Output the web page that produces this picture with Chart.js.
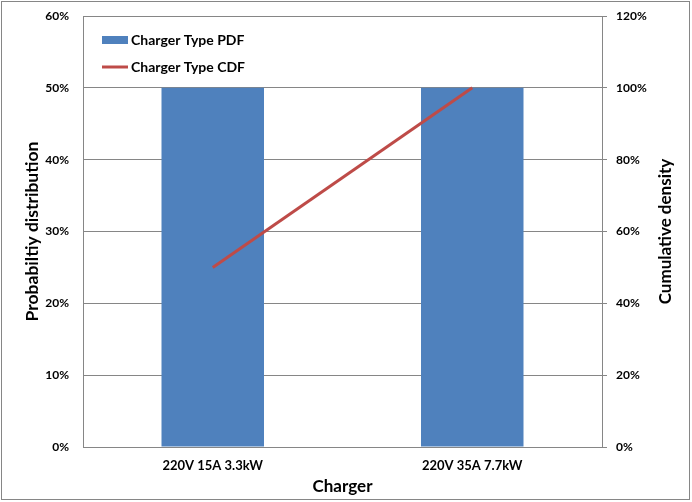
<!DOCTYPE html>
<html>
<head>
<meta charset="utf-8">
<script src="https://cdn.jsdelivr.net/npm/chart.js@4"></script>
<style>
    body { margin: 0; background: #ffffff; }
    #wrap { width: 692px; height: 502px; }
</style>
</head>
<body>
<div id="wrap"><canvas id="grafico" width="692" height="502"></canvas></div>
<script>
// Dados do gráfico
const categorias = ['220V 15A 3.3kW', '220V 35A 7.7kW'];
const valoresPdf = [0.5, 0.5];
const valoresCdf = [0.5, 1.0];
const nomesSeries = ['Charger Type PDF', 'Charger Type CDF'];
const tituloDireita = 'Cumulative density';

const corBarra = '#4F81BD';
const corLinha = '#BE4B48';
const corEixo = '#868686';
const fonte = 'Lato, "Open Sans", sans-serif';

function formatarPct(v) {
    return Math.round(v * 100) + '%';
}

// Fixa a largura do eixo vertical e evita que os rótulos empurrem a área do gráfico
function fixarEixoVertical(largura) {
    return function(scale) {
        scale.width = largura;
        scale.paddingTop = 4;
        scale.paddingBottom = 4;
    };
}

/**
 * Fundo branco e moldura externa
 */
const molduraPlugin = {
    id: 'moldura',
    beforeDraw(chart) {
        const ctx = chart.ctx;
        ctx.save();
        ctx.fillStyle = '#ffffff';
        ctx.fillRect(0, 0, chart.width, chart.height);
        ctx.strokeStyle = corEixo;
        ctx.lineWidth = 1;
        ctx.strokeRect(1.5, 1.5, chart.width - 4, chart.height - 4);
        ctx.restore();
    }
};

/**
 * Legenda dentro da área do gráfico e título do eixo direito (lido de baixo para cima)
 */
const legendaPlugin = {
    id: 'legendaInterna',
    afterDatasetsDraw(chart) {
        const ctx = chart.ctx;
        const area = chart.chartArea;
        const x0 = area.left + 19;
        const y0 = area.top + 24;
        ctx.save();
        ctx.font = 'bold 14px ' + fonte;
        ctx.textBaseline = 'middle';

        ctx.fillStyle = corBarra;
        ctx.fillRect(x0, y0 - 4, 26, 8);
        ctx.fillStyle = '#000000';
        ctx.fillText(nomesSeries[0], x0 + 29, y0);

        const y1 = y0 + 27;
        ctx.strokeStyle = corLinha;
        ctx.lineWidth = 3;
        ctx.beginPath();
        ctx.moveTo(x0, y1);
        ctx.lineTo(x0 + 26, y1);
        ctx.stroke();
        ctx.fillText(nomesSeries[1], x0 + 29, y1);

        // Título do eixo direito
        ctx.translate(666, (area.top + area.bottom) / 2);
        ctx.rotate(-Math.PI / 2);
        ctx.textAlign = 'center';
        ctx.font = 'bold 17px ' + fonte;
        ctx.fillText(tituloDireita, 0, 0);
        ctx.restore();
    }
};

new Chart(document.getElementById('grafico'), {
    type: 'bar',
    data: {
        labels: categorias,
        datasets: [
            {
                type: 'line',
                label: nomesSeries[1],
                data: valoresCdf,
                yAxisID: 'y2',
                borderColor: corLinha,
                borderWidth: 3,
                pointRadius: 0,
                fill: false,
                order: 0
            },
            {
                label: nomesSeries[0],
                data: valoresPdf,
                yAxisID: 'y',
                backgroundColor: corBarra,
                barPercentage: 0.395,
                categoryPercentage: 1,
                order: 1
            }
        ]
    },
    options: {
        responsive: false,
        animation: false,
        layout: { padding: { top: 16, left: 0, right: 0, bottom: 0 } },
        plugins: {
            legend: { display: false },
            tooltip: { enabled: false }
        },
        scales: {
            x: {
                grid: { display: false, drawTicks: false },
                border: { color: corEixo, width: 1 },
                ticks: {
                    color: '#000000',
                    padding: 11,
                    font: { family: fonte, size: 13, weight: 'bold' }
                },
                title: {
                    display: true,
                    text: 'Charger',
                    color: '#000000',
                    font: { family: fonte, size: 17, weight: 'bold' },
                    padding: { top: 0, bottom: 5 }
                },
                afterFit(scale) { scale.height = 55; }
            },
            y: {
                position: 'left',
                min: 0,
                max: 0.6,
                ticks: {
                    stepSize: 0.1,
                    padding: 14,
                    color: '#000000',
                    font: { family: fonte, size: 12, weight: 'bold' },
                    callback: formatarPct
                },
                grid: { color: corEixo, drawTicks: false },
                border: { color: corEixo, width: 1 },
                title: {
                    display: true,
                    text: 'Probabiltiy distribution',
                    color: '#000000',
                    font: { family: fonte, size: 17.5, weight: 'bold' },
                    padding: { top: 22, bottom: 0 }
                },
                afterFit: fixarEixoVertical(83)
            },
            y2: {
                position: 'right',
                min: 0,
                max: 1.2,
                ticks: {
                    stepSize: 0.2,
                    padding: 9,
                    color: '#000000',
                    font: { family: fonte, size: 12, weight: 'bold' },
                    callback: formatarPct
                },
                grid: { drawOnChartArea: false, color: corEixo, tickLength: 5 },
                border: { color: corEixo, width: 1 },
                afterFit: fixarEixoVertical(90)
            }
        }
    },
    plugins: [molduraPlugin, legendaPlugin]
});
</script>
</body>
</html>
